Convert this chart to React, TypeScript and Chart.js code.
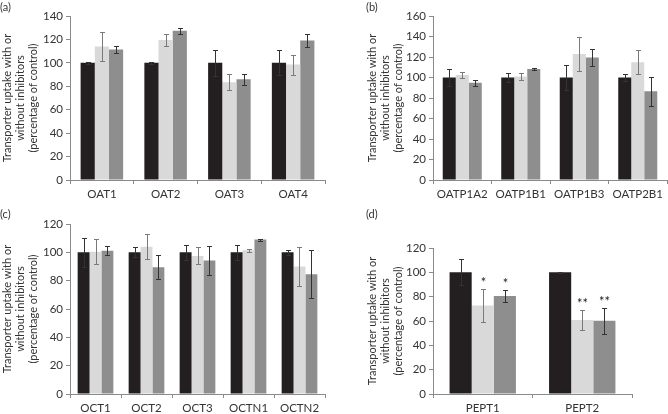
import React, { useEffect, useRef } from "react";
import { Chart, registerables } from "chart.js";
Chart.register(...registerables);

// Panel (a)
const catsA = ["OAT1", "OAT2", "OAT3", "OAT4"];
const ctrlA = [100, 100, 100, 100];
const ctrlErrA = [1, 1, 11, 10.7];
const inh1A = [114, 119.5, 83.5, 98.5];
const inh1ErrA = [12, 5.5, 6.8, 8.5];
const inh2A = [111.5, 127.5, 86, 119];
const inh2ErrA = [3, 2.6, 4.6, 5.3];

// Panel (b)
const catsB = ["OATP1A2", "OATP1B1", "OATP1B3", "OATP2B1"];
const ctrlB = [100, 100, 100, 100];
const ctrlErrB = [8.5, 4.5, 12, 3.5];
const inh1B = [102.5, 101, 123, 115];
const inh1ErrB = [2.5, 3.5, 16.5, 12];
const inh2B = [95, 108.3, 119.5, 86.5];
const inh2ErrB = [3, 1, 8, 14.3];

// Panel (c)
const catsC = ["OCT1", "OCT2", "OCT3", "OCTN1", "OCTN2"];
const ctrlC = [100, 100, 100, 100, 100];
const ctrlErrC = [10, 3.5, 5.5, 5.5, 2];
const inh1C = [100.5, 104, 97.5, 101.4, 90];
const inh1ErrC = [8.8, 9, 6, 1.2, 13.5];
const inh2C = [101.2, 89.5, 94.2, 109, 84.5];
const inh2ErrC = [3, 8.6, 10.3, 0.7, 16.8];

// Panel (d)
const catsD = ["PEPT1", "PEPT2"];
const ctrlD = [100, 100];
const ctrlErrD = [10.7, 0.5];
const inh1D = [72.8, 60.8];
const inh1ErrD = [13.4, 8.2];
const inh2D = [80.5, 60.2];
const inh2ErrD = [5, 10.5];
const starsInh1D = ["*", "**"];
const starsInh2D = ["*", "**"];

const yMaxA = 140;
const yMaxB = 160;
const yMaxC = 120;
const yMaxD = 120;

const yTitle = ["Transporter uptake with or", "without inhibitors", "(percentage of control)"];

const FONT = "Lato";

const errorBars = {
  id: "errorBars",
  afterDatasetsDraw(chart: any) {
    const ctx = chart.ctx;
    const y = chart.scales.y;
    chart.data.datasets.forEach((ds: any, di: number) => {
      const meta = chart.getDatasetMeta(di);
      meta.data.forEach((bar: any, i: number) => {
        const v = ds.data[i];
        const e = ds.errors ? ds.errors[i] : 0;
        const yt = Math.round(y.getPixelForValue(v + e)) + 0.5;
        const yb = Math.round(y.getPixelForValue(v - e)) + 0.5;
        const x = Math.round(bar.x) + 0.5;
        ctx.save();
        ctx.strokeStyle = ds.errorColor;
        ctx.lineWidth = 1;
        ctx.beginPath();
        ctx.moveTo(x, yt);
        ctx.lineTo(x, yb);
        ctx.moveTo(x - 2.5, yt);
        ctx.lineTo(x + 2.5, yt);
        ctx.moveTo(x - 2.5, yb);
        ctx.lineTo(x + 2.5, yb);
        ctx.stroke();
        const s = ds.stars ? ds.stars[i] : "";
        if (s) {
          ctx.fillStyle = "#222";
          ctx.font = `13px ${FONT}`;
          ctx.textAlign = "center";
          ctx.textBaseline = "alphabetic";
          ctx.fillText(s, x, yt - 3);
        }
        ctx.restore();
      });
    });
  },
};

type PanelProps = {
  left: number;
  top: number;
  label: string;
  cats: string[];
  ctrl: number[];
  ctrlErr: number[];
  inh1: number[];
  inh1Err: number[];
  inh2: number[];
  inh2Err: number[];
  stars1?: string[];
  stars2?: string[];
  yMax: number;
  pad: { left: number; top: number; right: number };
  yWidth: number;
  xHeight: number;
  catPct: number;
  labelLeft: number;
};

function Panel(p: PanelProps) {
  const ref = useRef<HTMLCanvasElement>(null);
  useEffect(() => {
    if (!ref.current) return;
    const chart = new Chart(ref.current, {
      type: "bar",
      data: {
        labels: p.cats,
        datasets: [
          { data: p.ctrl, backgroundColor: "#231f20", errors: p.ctrlErr, errorColor: "#333333" } as any,
          { data: p.inh1, backgroundColor: "#d9d9d9", errors: p.inh1Err, errorColor: "#7a7a7a", stars: p.stars1 } as any,
          { data: p.inh2, backgroundColor: "#8e8e8e", errors: p.inh2Err, errorColor: "#333333", stars: p.stars2 } as any,
        ],
      },
      options: {
        responsive: false,
        animation: false,
        events: [],
        layout: { padding: { left: p.pad.left, top: p.pad.top, right: p.pad.right, bottom: 0 } },
        datasets: { bar: { categoryPercentage: p.catPct, barPercentage: 1 } },
        plugins: { legend: { display: false }, tooltip: { enabled: false } },
        scales: {
          x: {
            grid: { display: true, drawOnChartArea: false, drawTicks: true, tickLength: 4, color: "#8a8a8a", offset: true },
            border: { color: "#8a8a8a" },
            ticks: { color: "#333", font: { family: FONT, size: 11.5 }, padding: 3 },
            afterFit: (s: any) => { s.height = p.xHeight; },
          },
          y: {
            min: 0,
            max: p.yMax,
            grid: { display: true, drawOnChartArea: false, drawTicks: true, tickLength: 4, color: "#8a8a8a" },
            border: { color: "#8a8a8a" },
            ticks: { stepSize: 20, color: "#333", font: { family: FONT, size: 11.5 }, padding: 3 },
            title: {
              display: true,
              text: yTitle,
              color: "#333",
              font: { family: FONT, size: 11, lineHeight: 13 / 11 },
              padding: { top: 1, bottom: 0 },
            },
            afterFit: (s: any) => { s.width = p.yWidth; },
          },
        },
      },
      plugins: [errorBars],
    });
    return () => chart.destroy();
  }, []);
  return (
    <div style={{ position: "absolute", left: p.left, top: p.top, width: 334, height: 207 }}>
      <canvas ref={ref} width={334} height={207} style={{ display: "block" }} />
      <div
        style={{
          position: "absolute",
          left: p.labelLeft,
          top: 1,
          fontFamily: FONT,
          fontSize: 11,
          color: "#333",
          lineHeight: "12px",
        }}
      >
        {p.label}
      </div>
    </div>
  );
}

export default function App() {
  return (
    <div style={{ position: "absolute", left: 0, top: 0, width: 668, height: 414, background: "#fff" }}>
      <Panel
        left={0} top={0} label="(a)" cats={catsA}
        ctrl={ctrlA} ctrlErr={ctrlErrA} inh1={inh1A} inh1Err={inh1ErrA} inh2={inh2A} inh2Err={inh2ErrA}
        yMax={yMaxA} pad={{ left: 0, top: 16, right: 9 }} yWidth={70} xHeight={27} catPct={0.667} labelLeft={0}
      />
      <Panel
        left={334} top={0} label="(b)" cats={catsB}
        ctrl={ctrlB} ctrlErr={ctrlErrB} inh1={inh1B} inh1Err={inh1ErrB} inh2={inh2B} inh2Err={inh2ErrB}
        yMax={yMaxB} pad={{ left: 31, top: 16, right: 1 }} yWidth={68} xHeight={27} catPct={0.667} labelLeft={32}
      />
      <Panel
        left={0} top={207} label="(c)" cats={catsC}
        ctrl={ctrlC} ctrlErr={ctrlErrC} inh1={inh1C} inh1Err={inh1ErrC} inh2={inh2C} inh2Err={inh2ErrC}
        yMax={yMaxC} pad={{ left: 0, top: 17, right: 9 }} yWidth={70} xHeight={20} catPct={0.7} labelLeft={0}
      />
      <Panel
        left={334} top={207} label="(d)" cats={catsD}
        ctrl={ctrlD} ctrlErr={ctrlErrD} inh1={inh1D} inh1Err={inh1ErrD} inh2={inh2D} inh2Err={inh2ErrD}
        stars1={starsInh1D} stars2={starsInh2D}
        yMax={yMaxD} pad={{ left: 31, top: 41, right: 36 }} yWidth={68} xHeight={20} catPct={0.667} labelLeft={32}
      />
    </div>
  );
}
